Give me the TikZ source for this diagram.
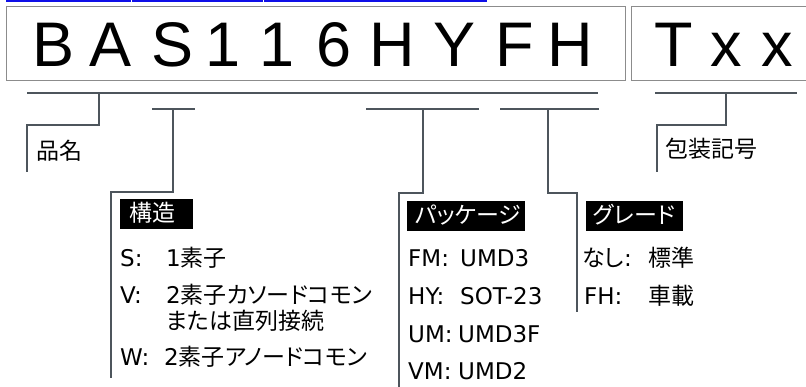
\documentclass[tikz,border=0pt]{standalone}
\usepackage{fontspec}
\setmainfont{Liberation Sans}
\newfontfamily\jpfont[RawFeature=+palt]{Noto Sans CJK JP}
\newfontfamily\latfont{DejaVu Sans}
\newfontfamily\partfont{Liberation Sans}
\newcommand{\Jp}[1]{{\jpfont #1}}
\definecolor{conn}{HTML}{4D555C}
\definecolor{boxline}{HTML}{8C8C8C}
\definecolor{linkblue}{HTML}{1010E8}
\begin{document}
\begin{tikzpicture}[x=1pt,y=-1pt,
  conline/.style={draw=conn, line width=2pt, line join=miter},
  partbox/.style={draw=boxline, line width=1pt},
  letter/.style={font=\partfont\fontsize{63}{63}\selectfont, inner sep=0, anchor=base},
  lbl/.style={font=\latfont\fontsize{23}{23}\selectfont, inner sep=0, anchor=base west,
    text height=17pt, text depth=4pt},
  hdrbox/.style={fill=black},
  hdrtext/.style={lbl, text=white}]
\useasboundingbox (0,0) rectangle (806,387);
% link underline
\fill[linkblue] (6,0) rectangle (487,2);
\draw[white, line width=1pt] (131.5,0) -- (131.5,2) (263,0) -- (263,2);
% part number boxes
\draw[partbox] (6,7) rectangle (625,81);
\draw[partbox] (812,7) -| (631,81) -- (812,81);
% letters
\node[letter] (cB) at (54,67) {B};
\node[letter] (cA) at (111,67) {A};
\node[letter] (cS) at (173,67) {S};
\node[letter] (c1) at (223,67) {1};
\node[letter] (c2) at (277,67) {1};
\node[letter] (c6) at (334,67) {6};
\node[letter] (cH) at (392,67) {H};
\node[letter] (cY) at (455,67) {Y};
\node[letter] (cF) at (515,67) {F};
\node[letter] (cH2) at (570,67) {H};
\node[letter] (cT) at (674,67) {T};
\node[letter] (cx1) at (726,67) {x};
\node[letter] (cx2) at (777,67) {x};
% coordinates for connectors
\coordinate (mainL) at (27,93.5);
\coordinate (mainR) at (598,93.5);
\coordinate (nameTop) at (99,93.5);
\coordinate (nameMid) at (27,125);
\coordinate (nameEnd) at (27,172);
\coordinate (strL) at (152,109);
\coordinate (strR) at (195,109);
\coordinate (strTop) at (173,109);
\coordinate (strMid) at (111,192);
\coordinate (strEnd) at (111,378);
\coordinate (pkgL) at (366,109);
\coordinate (pkgR) at (479,109);
\coordinate (pkgTop) at (423,109);
\coordinate (pkgMid) at (399,193);
\coordinate (pkgEnd) at (399,390);
\coordinate (grdL) at (500,109);
\coordinate (grdR) at (599,109);
\coordinate (grdTop) at (548,109);
\coordinate (grdMid) at (577,193);
\coordinate (grdEnd) at (577,312);
\coordinate (tapL) at (655,93.5);
\coordinate (tapR) at (797,93.5);
\coordinate (tapTop) at (726,93.5);
\coordinate (tapMid) at (657,125);
\coordinate (tapEnd) at (657,172);
% connectors
\draw[conline] (mainL) -- (mainR);
\draw[conline] (nameTop) |- (nameMid) -- (nameEnd);
\draw[conline] (strL) -- (strR);
\draw[conline] (strTop) |- (strMid) -- (strEnd);
\draw[conline] (pkgL) -- (pkgR);
\draw[conline] (pkgTop) |- (pkgMid) -- (pkgEnd);
\draw[conline] (grdL) -- (grdR);
\draw[conline] (grdTop) |- (grdMid) -- (grdEnd);
\draw[conline] (tapL) -- (tapR);
\draw[conline] (tapTop) |- (tapMid) -- (tapEnd);
% labels
\node[lbl] (hinmei) at (36,160) {\Jp{品名}};
\node[lbl] (hoso) at (665,158) {\Jp{包装記号}};
% structure
\fill[hdrbox] (120,199) rectangle (193,229);
\node[hdrtext] (strH) at (129,222) {\Jp{構造}};
\node[lbl] (sK) at (120,267) {S:};
\node[lbl] (sV) at (166,267) {1\Jp{素子}};
\node[lbl] (vK) at (120,304) {V:};
\node[lbl] (vV) at (166,304) {2\Jp{素子カソードコモン}};
\node[lbl] (vV2) at (166,330) {\Jp{または直列接続}};
\node[lbl] (wK) at (120,366) {W:};
\node[lbl] (wV) at (164,366) {2\Jp{素子アノードコモン}};
% package
\fill[hdrbox] (407,201) rectangle (525,231);
\node[hdrtext] (pkgH) at (415,224) {\Jp{パッケージ}};
\node[lbl] (fmK) at (408,267) {FM:};
\node[lbl] (fmV) at (460,267) {UMD3};
\node[lbl] (hyK) at (408,305) {HY:};
\node[lbl] (hyV) at (460,305) {SOT-23};
\node[lbl] (umK) at (408,342) {UM:};
\node[lbl] (umV) at (458,342) {UMD3F};
\node[lbl] (vmK) at (408,379) {VM:};
\node[lbl] (vmV) at (458,379) {UMD2};
% grade
\fill[hdrbox] (586,201) rectangle (683,231);
\node[hdrtext] (grdH) at (593,224) {\Jp{グレード}};
\node[lbl] (nsK) at (582,267) {\Jp{なし}:};
\node[lbl] (nsV) at (648,267) {\Jp{標準}};
\node[lbl] (fhK) at (584,305) {FH:};
\node[lbl] (fhV) at (648,305) {\Jp{車載}};
\end{tikzpicture}
\end{document}
